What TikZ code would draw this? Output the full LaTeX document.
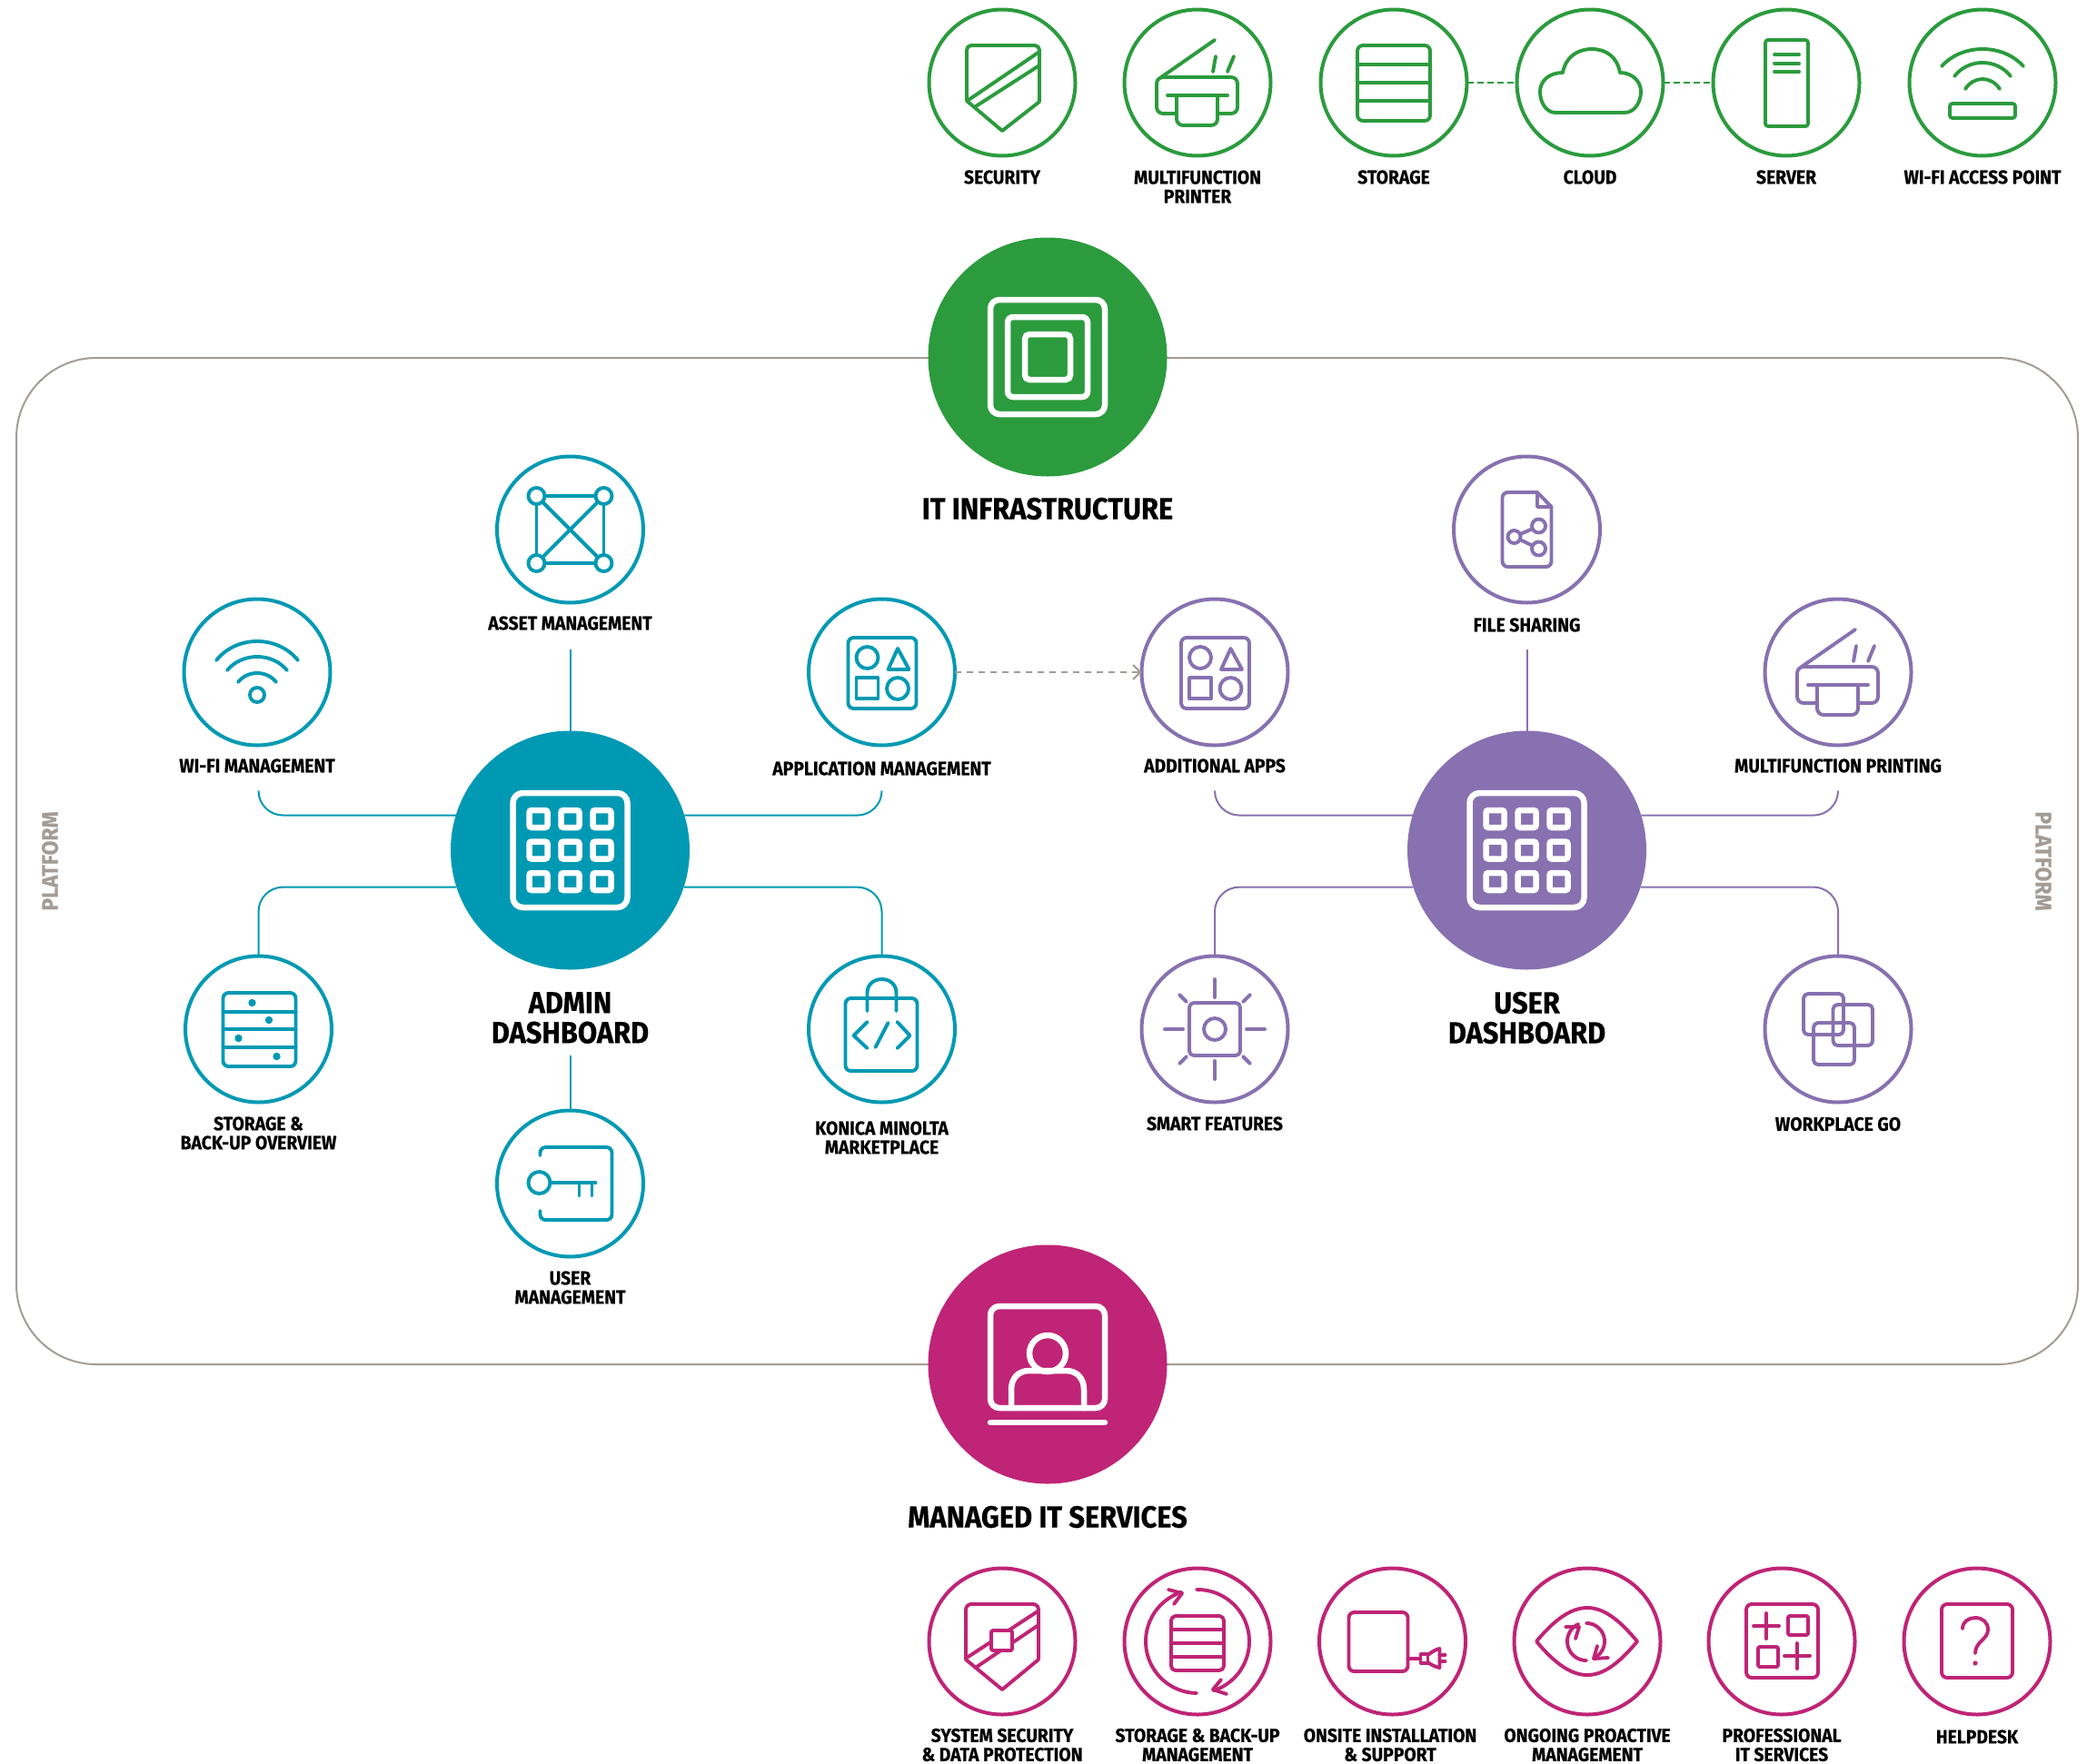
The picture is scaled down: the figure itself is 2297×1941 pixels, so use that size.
\documentclass[tikz,border=0pt]{standalone}
\usepackage{fontspec}
\usetikzlibrary{arrows.meta}
\newfontfamily\labfont{Fira Sans}[FakeStretch=0.92,BoldFeatures={FakeBold=0.4}]
\definecolor{grn}{HTML}{2B9B3D}
\definecolor{tea}{HTML}{0099B3}
\definecolor{pur}{HTML}{8771B0}
\definecolor{mag}{HTML}{BF2476}
\definecolor{gry}{HTML}{A39C96}
\tikzset{
  ring/.style={circle,draw=#1,line width=4pt,minimum size=161pt,inner sep=0pt,outer sep=0pt},
  hub/.style={circle,fill=#1,minimum size=263pt,inner sep=0pt,outer sep=0pt},
  ico/.style={color=#1,line width=3.9pt,line cap=round,line join=round},
  conn/.style={draw=#1,line width=2pt,rounded corners=27pt},
  lab/.style={font=\labfont\bfseries\fontsize{21}{21}\selectfont,align=center,text=black,inner sep=0pt,yshift=1pt},
  head/.style={font=\labfont\bfseries\fontsize{33.5}{33}\selectfont,align=center,text=black,inner sep=0pt},
  plat/.style={font=\labfont\bfseries\fontsize{25}{25}\selectfont,text=gry,inner sep=0pt},
}
\newcommand\warc[3]{\pgfmathsetmacro\wyc{(#3-0.25*(#2))/0.75}\pgfmathsetmacro\wxc{0.5*#1}%
  \draw (-#1,#2) .. controls (-\wxc,\wyc) and (\wxc,\wyc) .. (#1,#2);}
\newcommand\icoSecurity[3]{\begin{scope}[shift={(#1,#2)},ico=#3]
  \draw[rounded corners=5pt] (-39,20) -- (-39,-41) -- (41,-41) -- (41,21);
  \draw (41,21) -- (0,53) -- (-39,20);
  \draw (41,-34) -- (-37,19); \draw (41,-19) -- (-29,26);
\end{scope}}
\newcommand\icoPrinter[3]{\begin{scope}[shift={(#1,#2)},ico=#3]
  \draw (-40,-6) -- (19,-47);
  \draw (17,-12) -- (20,-29); \draw (33,-12) -- (40,-29);
  \draw[rounded corners=7pt] (-23,34) -- (-45,34) -- (-45,-6) -- (44,-6) -- (44,34) -- (22,34);
  \draw (-33,14) -- (33,14);
  \draw[rounded corners=7pt] (-23,14) -- (-23,47) -- (22,47) -- (22,14);
\end{scope}}
\newcommand\icoStorage[3]{\begin{scope}[shift={(#1,#2)},ico=#3]
  \draw[rounded corners=6pt] (-40,-41) rectangle (40,42);
  \draw (-40,-20) -- (40,-20); \draw (-40,0) -- (40,0); \draw (-40,20) -- (40,20);
\end{scope}}
\newcommand\icoCloud[3]{\begin{scope}[shift={(#1,#2)},ico=#3]
  \draw (-38,33) -- (38,33) .. controls (50,33) and (56,20) .. (56,10) .. controls (56,-2) and (46,-11) .. (33,-11)
    .. controls (30,-28) and (18,-37) .. (2,-37) .. controls (-14,-37) and (-27,-28) .. (-30,-11)
    .. controls (-45,-11) and (-55,-2) .. (-55,10) .. controls (-55,22) and (-48,33) .. (-38,33) -- cycle;
\end{scope}}
\newcommand\icoServer[3]{\begin{scope}[shift={(#1,#2)},ico=#3]
  \draw[rounded corners=3pt] (-23,-47) rectangle (24,48);
  \draw (-13,-31) -- (14,-31); \draw (-13,-21) -- (14,-21); \draw (-13,-12) -- (14,-12);
\end{scope}}
\newcommand\icoAP[3]{\begin{scope}[shift={(#1,#2)},ico=#3]
  \warc{45}{-18}{-37} \warc{31}{-7}{-22} \warc{19}{7}{-4}
  \draw[rounded corners=3pt] (-36,23) rectangle (36,39);
\end{scope}}
\newcommand\icoSysSec[3]{\begin{scope}[shift={(#1,#2)},ico=#3]
  \draw[rounded corners=6pt] (-40,20) -- (-40,-41) -- (40,-41) -- (40,20);
  \draw (40,20) -- (0,53) -- (-40,20);
  \draw (39,-33) -- (-39,18); \draw (40,-18) -- (-28,28);
  \draw[fill=white,rounded corners=2pt] (-12,-12) rectangle (11,10);
\end{scope}}
\newcommand\icoBackup[3]{\begin{scope}[shift={(#1,#2)},ico=#3]
  \draw[rounded corners=5pt] (-29,-28) rectangle (29,32);
  \draw (-29,-13) -- (29,-13); \draw (-29,2) -- (29,2); \draw (-29,17) -- (29,17);
  \draw plot[domain=91:252,samples=30,smooth] ({57*cos(\x)},{57*sin(\x)});
  \draw plot[domain=-91:72,samples=30,smooth] ({57*cos(\x)},{57*sin(\x)});
  \draw (-32,-57) -- (-17,-53) -- (-26,-41);
  \draw (26,42) -- (17,53) -- (32,58);
\end{scope}}
\newcommand\icoOnsite[3]{\begin{scope}[shift={(#1,#2)},ico=#3]
  \draw[rounded corners=6pt] (-48,-32) rectangle (17,33);
  \draw (17,19) -- (31,19);
  \draw (31,14) rectangle (39,24);
  \draw (39,15) .. controls (43,12) and (47,9) .. (52,8) -- (52,29) .. controls (47,28) and (43,26) .. (39,23);
  \draw (52,15) -- (58,15); \draw (52,22) -- (58,22);
\end{scope}}
\newcommand\icoEye[3]{\begin{scope}[shift={(#1,#2)},ico=#3]
  \draw (-56,0) .. controls (-36,-24) and (-18,-37) .. (0,-37) .. controls (18,-37) and (35,-24) .. (55,0)
    .. controls (35,24) and (18,37) .. (0,37) .. controls (-18,37) and (-36,24) .. (-56,0) -- cycle;
  \draw plot[domain=90:245,samples=24,smooth] ({-1+21*cos(\x)},{21*sin(\x)});
  \draw plot[domain=-90:65,samples=24,smooth] ({-1+20*cos(\x)},{20*sin(\x)});
  \draw (-24,-16) -- (-9,-16) -- (-13,-3);
  \draw (11,5) -- (7,19) -- (23,18);
\end{scope}}
\newcommand\icoPro[3]{\begin{scope}[shift={(#1,#2)},ico=#3]
  \draw[rounded corners=6pt] (-39,-41) rectangle (40,40);
  \draw (-31,-17) -- (-3,-17); \draw (-17,-31) -- (-17,-3);
  \draw[rounded corners=2pt] (7,-28) rectangle (29,-7);
  \draw[rounded corners=2pt] (-26,6) rectangle (-4,28);
  \draw (3,16) -- (31,16); \draw (17,2) -- (17,30);
\end{scope}}
\newcommand\icoHelp[3]{\begin{scope}[shift={(#1,#2)},ico=#3]
  \draw[rounded corners=6pt] (-39,-41) rectangle (39,40);
  \draw (-16,-14) .. controls (-16,-22) and (-9,-26) .. (-2,-26) .. controls (6,-26) and (12,-21) .. (12,-13) .. controls (12,-2) and (-2,0) .. (-2,13);
  \fill (-2,24) circle[radius=2.6];
\end{scope}}
\newcommand\icoAsset[3]{\begin{scope}[shift={(#1,#2)},ico=#3]
  \draw (-37,-37) rectangle (37,37);
  \draw (-37,-37) -- (37,37); \draw (37,-37) -- (-37,37);
  \foreach \a/\b in {-37/-37,37/-37,-37/37,37/37}{\draw[fill=white] (\a,\b) circle[radius=9];}
\end{scope}}
\newcommand\icoWifi[3]{\begin{scope}[shift={(#1,#2)},ico=#3]
  \warc{45}{-13}{-34} \warc{33}{-2}{-17} \warc{21}{11}{1}
  \draw (0,25) circle[radius=8];
\end{scope}}
\newcommand\icoApps[3]{\begin{scope}[shift={(#1,#2)},ico=#3]
  \draw[rounded corners=6pt] (-37,-38) rectangle (38,40);
  \draw (-16,-16) circle[radius=12];
  \draw (17.5,-26) -- (30,-3) -- (7,-3) -- cycle;
  \draw (-28,6) rectangle (-4,29);
  \draw (17.5,18) circle[radius=12];
\end{scope}}
\newcommand\icoOverview[3]{\begin{scope}[shift={(#1,#2)},ico=#3]
  \draw[rounded corners=6pt] (-39,-40) rectangle (41,41);
  \draw (-39,-19) -- (41,-19); \draw (-39,0) -- (41,0); \draw (-39,20) -- (41,20);
  \foreach \a/\b in {-7/-29,11.5/-10,-22/10,20/30}{\fill (\a,\b) circle[radius=4.2];}
\end{scope}}
\newcommand\icoBag[3]{\begin{scope}[shift={(#1,#2)},ico=#3]
  \draw[rounded corners=6pt] (-40,-34) rectangle (39,46);
  \draw (-16,-20) -- (-16,-40) .. controls (-16,-60) and (16,-60) .. (16,-40) -- (16,-20);
  \draw (-16,-8) -- (-31,7) -- (-16,21);
  \draw (17,-8) -- (31,7) -- (17,21);
  \draw (7,-7) -- (-7,20);
\end{scope}}
\newcommand\icoKey[3]{\begin{scope}[shift={(#1,#2)},ico=#3]
  \draw[rounded corners=6pt] (-33,-31) -- (-33,-40) -- (46,-40) -- (46,40) -- (-33,40) -- (-33,30);
  \draw (-34,-1) circle[radius=12];
  \draw (-22,-1) -- (28,-1);
  \draw (10,-1) -- (10,13); \draw (24,-1) -- (24,13);
\end{scope}}
\newcommand\icoFile[3]{\begin{scope}[shift={(#1,#2)},ico=#3]
  \draw[rounded corners=6pt] (11.5,-41) -- (-27,-41) -- (-27,41) -- (27,41) -- (27,-25);
  \draw (11.5,-41) -- (27,-25) -- (11.5,-25) -- cycle;
  \draw (-14,8) -- (13,-4); \draw (-14,8) -- (13,21);
  \draw[fill=white] (-14,8) circle[radius=7];
  \draw[fill=white] (13,-4) circle[radius=7.5];
  \draw[fill=white] (13,21) circle[radius=7.5];
\end{scope}}
\newcommand\icoSmart[3]{\begin{scope}[shift={(#1,#2)},ico=#3]
  \draw[rounded corners=5pt] (-28,-29) rectangle (28,29);
  \draw (0,0) circle[radius=12];
  \draw (0,-55) -- (0,-35); \draw (0,35) -- (0,55); \draw (-55,0) -- (-35,0); \draw (35,0) -- (55,0);
  \draw (-39,-38) -- (-31,-30); \draw (39,-38) -- (31,-30); \draw (-39,38) -- (-31,30); \draw (39,38) -- (31,30);
\end{scope}}
\newcommand\icoWork[3]{\begin{scope}[shift={(#1,#2)},ico=#3]
  \draw[rounded corners=5pt] (-38,-39) rectangle (6,6);
  \draw[rounded corners=5pt] (-5.5,-27) rectangle (38,18);
  \draw[rounded corners=5pt] (-27,-7) rectangle (18,39);
\end{scope}}
\newcommand\icoGrid[2]{\begin{scope}[shift={(#1,#2)},color=white,line width=6.5pt]
  \draw[rounded corners=11pt] (-63,-63) rectangle (63,63);
  \foreach \a in {-35,0,35}{\foreach \b in {-34.5,0,34.5}{
    \draw[rounded corners=2.5pt] (\a-10,\b-9.5) rectangle (\a+10,\b+9.5);}}
\end{scope}}
\begin{document}
\begin{tikzpicture}[x=1pt,y=-1pt]
\useasboundingbox (0,0) rectangle (2297,1941);
% platform
\node[draw=gry,line width=2pt,rounded corners=88pt,minimum width=2269pt,minimum height=1108pt,inner sep=0pt] (platform) at (1152.5,948) {};
\node[plat,rotate=90] (platL) at (55,948) {PLATFORM};
\node[plat,rotate=-90] (platR) at (2249,948) {PLATFORM};
% hubs
\node[hub=grn] (infra) at (1153,393) {};
\node[hub=mag] (managed) at (1153,1502) {};
\node[hub=tea] (admin) at (627.5,936) {};
\node[hub=pur] (user) at (1680.5,936) {};
% hub icons
\begin{scope}[shift={(1153,393)},color=white,line width=6.5pt]
  \draw[rounded corners=10pt] (-63,-63) rectangle (63,63);
  \draw[rounded corners=6pt] (-44,-44) rectangle (44,44);
  \draw[rounded corners=5pt] (-25,-25) rectangle (25,25);
\end{scope}
\begin{scope}[shift={(1153,1502)},color=white,line width=6.5pt,line cap=round]
  \draw[rounded corners=10pt] (-63,-64) rectangle (63,48);
  \draw (-63,64) -- (63,64);
  \draw (0,-12) circle[radius=20];
  \draw (-40,48) -- (-40,28) .. controls (-40,15) and (-32,7) .. (-20,7) -- (20,7) .. controls (32,7) and (40,15) .. (40,28) -- (40,48);
\end{scope}
\icoGrid{627.5}{936}
\icoGrid{1680.5}{936}
% top row
\node[ring=grn] (sec) at (1103,91) {};
\node[ring=grn] (mfp) at (1318,91) {};
\node[ring=grn] (sto) at (1534,91) {};
\node[ring=grn] (cld) at (1750,91) {};
\node[ring=grn] (srv) at (1966,91) {};
\node[ring=grn] (wap) at (2182,91) {};
\draw[grn,line width=2.6pt,dash pattern=on 7pt off 4pt] (sto) -- (cld);
\draw[grn,line width=2.6pt,dash pattern=on 7pt off 4pt] (cld) -- (srv);
\icoSecurity{1103}{91}{grn}
\icoPrinter{1318}{91}{grn}
\icoStorage{1534}{91}{grn}
\icoCloud{1750}{91}{grn}
\icoServer{1966}{91}{grn}
\icoAP{2182}{91}{grn}
\node[lab] (lsec) at (1103,196) {SECURITY};
\node[lab] (lmfp) at (1318,206.5) {MULTIFUNCTION\\PRINTER};
\node[lab] (lsto) at (1534,196) {STORAGE};
\node[lab] (lcld) at (1750,196) {CLOUD};
\node[lab] (lsrv) at (1966,196) {SERVER};
\node[lab] (lwap) at (2182,196) {WI-FI ACCESS POINT};
\node[head] (linfra) at (1153,560) {IT INFRASTRUCTURE};
% bottom row
\node[ring=mag] (ssd) at (1103,1807) {};
\node[ring=mag] (sbm) at (1318,1807) {};
\node[ring=mag] (ois) at (1532.5,1807) {};
\node[ring=mag] (opm) at (1747,1807) {};
\node[ring=mag] (pro) at (1961,1807) {};
\node[ring=mag] (hlp) at (2176,1807) {};
\icoSysSec{1103}{1807}{mag}
\icoBackup{1318}{1807}{mag}
\icoOnsite{1532.5}{1807}{mag}
\icoEye{1747}{1807}{mag}
\icoPro{1961}{1807}{mag}
\icoHelp{2176}{1807}{mag}
\node[head] (lmanaged) at (1153,1670) {MANAGED IT SERVICES};
\node[lab] (lssd) at (1103,1922) {SYSTEM SECURITY\\\& DATA PROTECTION};
\node[lab] (lsbm) at (1318,1922) {STORAGE \& BACK-UP\\MANAGEMENT};
\node[lab] (lois) at (1530,1922) {ONSITE INSTALLATION\\\& SUPPORT};
\node[lab] (lopm) at (1747,1922) {ONGOING PROACTIVE\\MANAGEMENT};
\node[lab] (lpro) at (1961,1922) {PROFESSIONAL\\IT SERVICES};
\node[lab] (lhlp) at (2176,1913) {HELPDESK};
% admin side
\node[ring=tea] (asset) at (627.5,583) {};
\node[ring=tea] (wifi) at (283,740) {};
\node[ring=tea] (apps) at (970.5,740) {};
\node[ring=tea] (over) at (284.5,1133) {};
\node[ring=tea] (market) at (970.5,1133) {};
\node[ring=tea] (umgt) at (627.5,1303) {};
\icoAsset{627.5}{583}{tea}
\icoWifi{283}{740}{tea}
\icoApps{970.5}{740}{tea}
\icoOverview{284.5}{1133}{tea}
\icoBag{970.5}{1133}{tea}
\icoKey{627.5}{1303}{tea}
\node[lab] (lasset) at (627.5,687) {ASSET MANAGEMENT};
\node[lab] (lwifi) at (283,844) {WI-FI MANAGEMENT};
\node[lab] (lapps) at (970.5,847) {APPLICATION MANAGEMENT};
\node[lab] (lover) at (284.5,1248.5) {STORAGE \&\\BACK-UP OVERVIEW};
\node[lab] (lmarket) at (970.5,1253.5) {KONICA MINOLTA\\MARKETPLACE};
\node[lab] (lumgt) at (627.5,1418.5) {USER\\MANAGEMENT};
\node[head] (ladmin) at (627.5,1120.5) {ADMIN\\DASHBOARD};
\coordinate (eAsset) at (627.5,715);
\coordinate (eWifi) at (284.5,871);
\coordinate (eApps) at (970.5,871);
\coordinate (eUmgt) at (627.5,1162);
\draw[conn=tea] (eAsset) -- (admin);
\draw[conn=tea] (eWifi) |- (admin.163);
\draw[conn=tea] (eApps) |- (admin.17);
\draw[conn=tea] (admin.198) -| (over.north);
\draw[conn=tea] (admin.-18) -| (market.north);
\draw[conn=tea] (eUmgt) -- (umgt);
% user side
\node[ring=pur] (file) at (1680.5,583) {};
\node[ring=pur] (addl) at (1337,740) {};
\node[ring=pur] (mprn) at (2023,740) {};
\node[ring=pur] (smart) at (1337,1133) {};
\node[ring=pur] (wgo) at (2023,1133) {};
\icoFile{1680.5}{583}{pur}
\icoApps{1337}{740}{pur}
\icoPrinter{2023}{740}{pur}
\icoSmart{1337}{1133}{pur}
\icoWork{2023}{1133}{pur}
\node[lab] (lfile) at (1680.5,689) {FILE SHARING};
\node[lab] (laddl) at (1337,844) {ADDITIONAL APPS};
\node[lab] (lmprn) at (2023,844) {MULTIFUNCTION PRINTING};
\node[lab] (lsmart) at (1337,1238) {SMART FEATURES};
\node[lab] (lwgo) at (2023,1238.5) {WORKPLACE GO};
\node[head] (luser) at (1680.5,1120.5) {USER\\DASHBOARD};
\coordinate (eFile) at (1680.5,715);
\coordinate (eAddl) at (1337,871);
\coordinate (eMprn) at (2023,871);
\draw[conn=pur] (eFile) -- (user);
\draw[conn=pur] (eAddl) |- (user.163);
\draw[conn=pur] (eMprn) |- (user.17);
\draw[conn=pur] (user.198) -| (smart.north);
\draw[conn=pur] (user.-18) -| (wgo.north);
% dashed link
\draw[gry,line width=2pt,dash pattern=on 7pt off 6pt,-{Straight Barb[length=8pt,width=16pt,line width=2pt]}] (apps) -- (addl);
\end{tikzpicture}
\end{document}
